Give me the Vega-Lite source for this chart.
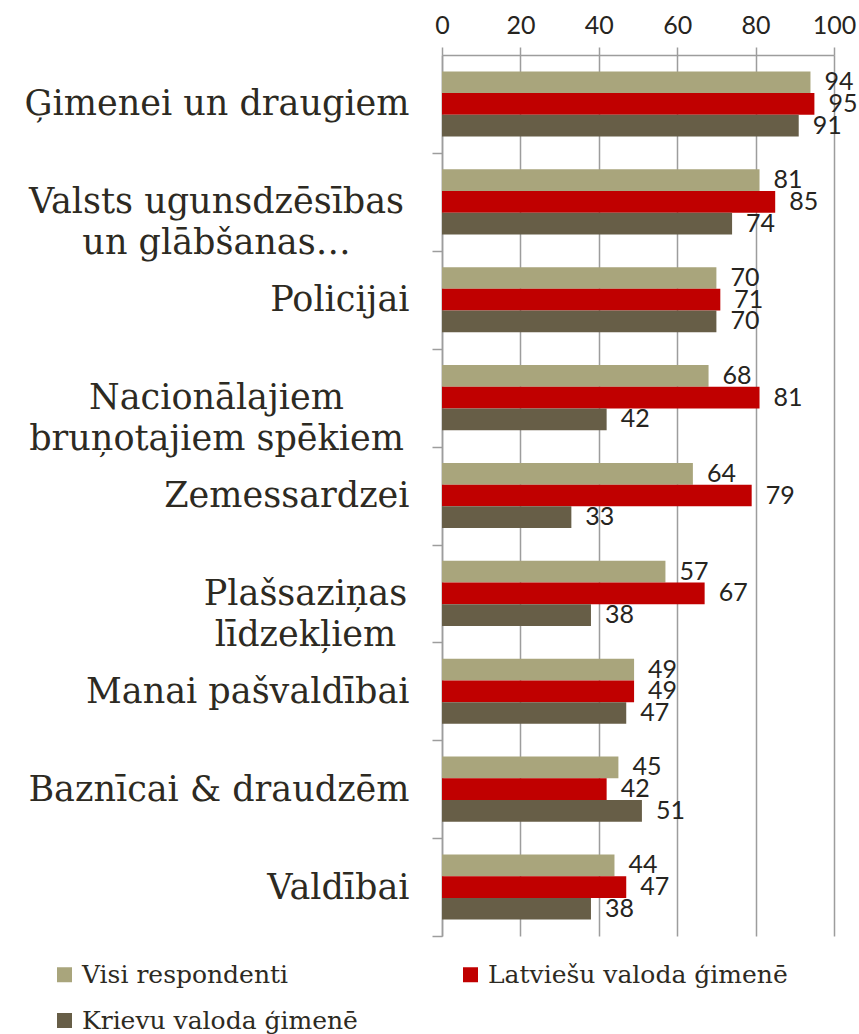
{
  "$schema": "https://vega.github.io/schema/vega-lite/v6.json",
  "width": 392,
  "height": 881,
  "autosize": {"type": "none"},
  "padding": {"left": 442, "top": 55, "right": 25, "bottom": 98},
  "background": "white",
  "config": {"view": {"stroke": null}},
  "data": {
    "values": [
      {"cat": "Ģimenei un draugiem", "series": "Visi respondenti", "value": 94},
      {"cat": "Ģimenei un draugiem", "series": "Latviešu valoda ģimenē", "value": 95},
      {"cat": "Ģimenei un draugiem", "series": "Krievu valoda ģimenē", "value": 91},
      {"cat": "Valsts ugunsdzēsības|un glābšanas…", "series": "Visi respondenti", "value": 81},
      {"cat": "Valsts ugunsdzēsības|un glābšanas…", "series": "Latviešu valoda ģimenē", "value": 85},
      {"cat": "Valsts ugunsdzēsības|un glābšanas…", "series": "Krievu valoda ģimenē", "value": 74},
      {"cat": "Policijai", "series": "Visi respondenti", "value": 70},
      {"cat": "Policijai", "series": "Latviešu valoda ģimenē", "value": 71},
      {"cat": "Policijai", "series": "Krievu valoda ģimenē", "value": 70},
      {"cat": "Nacionālajiem|bruņotajiem spēkiem", "series": "Visi respondenti", "value": 68},
      {"cat": "Nacionālajiem|bruņotajiem spēkiem", "series": "Latviešu valoda ģimenē", "value": 81},
      {"cat": "Nacionālajiem|bruņotajiem spēkiem", "series": "Krievu valoda ģimenē", "value": 42},
      {"cat": "Zemessardzei", "series": "Visi respondenti", "value": 64},
      {"cat": "Zemessardzei", "series": "Latviešu valoda ģimenē", "value": 79},
      {"cat": "Zemessardzei", "series": "Krievu valoda ģimenē", "value": 33},
      {"cat": "Plašsaziņas|līdzekļiem", "series": "Visi respondenti", "value": 57},
      {"cat": "Plašsaziņas|līdzekļiem", "series": "Latviešu valoda ģimenē", "value": 67},
      {"cat": "Plašsaziņas|līdzekļiem", "series": "Krievu valoda ģimenē", "value": 38},
      {"cat": "Manai pašvaldībai", "series": "Visi respondenti", "value": 49},
      {"cat": "Manai pašvaldībai", "series": "Latviešu valoda ģimenē", "value": 49},
      {"cat": "Manai pašvaldībai", "series": "Krievu valoda ģimenē", "value": 47},
      {"cat": "Baznīcai & draudzēm", "series": "Visi respondenti", "value": 45},
      {"cat": "Baznīcai & draudzēm", "series": "Latviešu valoda ģimenē", "value": 42},
      {"cat": "Baznīcai & draudzēm", "series": "Krievu valoda ģimenē", "value": 51},
      {"cat": "Valdībai", "series": "Visi respondenti", "value": 44},
      {"cat": "Valdībai", "series": "Latviešu valoda ģimenē", "value": 47},
      {"cat": "Valdībai", "series": "Krievu valoda ģimenē", "value": 38}
    ]
  },
  "encoding": {
    "y": {
      "field": "cat",
      "type": "nominal",
      "sort": ["Ģimenei un draugiem", "Valsts ugunsdzēsības|un glābšanas…", "Policijai", "Nacionālajiem|bruņotajiem spēkiem", "Zemessardzei", "Plašsaziņas|līdzekļiem", "Manai pašvaldībai", "Baznīcai & draudzēm", "Valdībai"],
      "scale": {"paddingInner": 0.335, "paddingOuter": 0.1675},
      "axis": {
        "title": null,
        "tickOffset": 49,
        "labelOffset": -49,
        "tickSize": 10,
        "tickWidth": 1.5,
        "tickColor": "#9d9d9d",
        "domainColor": "#9d9d9d",
        "domainWidth": 1.5,
        "labelFont": "DejaVu Serif",
        "labelFontSize": 35,
        "labelColor": "#2d2a22",
        "labelLimit": 500,
        "labelLineHeight": 41,
        "labelExpr": "isString(datum.value) ? split(datum.value, '|') : ''",
        "labelAlign": {"condition": {"test": "isString(datum.value) && indexof(datum.value, '|') >= 0", "value": "center"}, "value": "right"},
        "labelPadding": {"condition": [{"test": "datum.value == 'Plašsaziņas|līdzekļiem'", "value": 127}, {"test": "isString(datum.value) && indexof(datum.value, '|') >= 0", "value": 216}], "value": 23}
      }
    },
    "yOffset": {
      "field": "series",
      "type": "nominal",
      "sort": ["Visi respondenti", "Latviešu valoda ģimenē", "Krievu valoda ģimenē"]
    },
    "x": {
      "field": "value",
      "type": "quantitative",
      "scale": {"domain": [0, 100]},
      "axis": {
        "orient": "top",
        "title": null,
        "values": [0, 20, 40, 60, 80, 100],
        "grid": true,
        "gridColor": "#9d9d9d",
        "gridWidth": 1.5,
        "domainColor": "#9d9d9d",
        "domainWidth": 1.5,
        "tickColor": "#9d9d9d",
        "tickWidth": 1.5,
        "tickSize": 8,
        "labelFont": "Lato",
        "labelFontSize": 25,
        "labelColor": "#262420",
        "labelPadding": 9,
        "labelFlush": false
      }
    }
  },
  "layer": [
    {
      "mark": {"type": "bar"},
      "encoding": {
        "color": {
          "field": "series",
          "type": "nominal",
          "scale": {
            "domain": ["Visi respondenti", "Krievu valoda ģimenē", "Latviešu valoda ģimenē"],
            "range": ["#A9A57C", "#675E47", "#C00000"]
          },
          "legend": {
            "orient": "none",
            "legendX": -390,
            "legendY": 907,
            "title": null,
            "columns": 2,
            "columnPadding": 100,
            "rowPadding": 20,
            "symbolType": "square",
            "symbolSize": 225,
            "symbolStrokeWidth": 0,
            "symbolOpacity": 1,
            "labelFont": "DejaVu Serif",
            "labelFontSize": 25,
            "labelColor": "#2d2a22",
            "labelOffset": 5,
            "labelLimit": 400
          }
        }
      }
    },
    {
      "mark": {"type": "text", "align": "left", "baseline": "middle", "dx": 14, "font": "Lato", "fontSize": 25, "color": "#262420"},
      "encoding": {"text": {"field": "value", "type": "quantitative"}}
    }
  ]
}
